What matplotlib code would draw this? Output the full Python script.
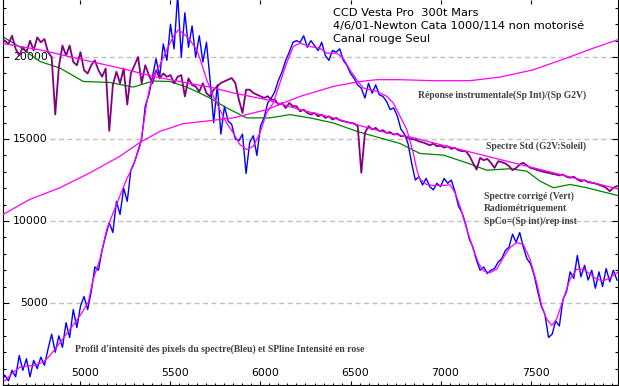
import numpy as np
import matplotlib
matplotlib.use("Agg")
import matplotlib.pyplot as plt
from matplotlib.ticker import MultipleLocator
from matplotlib.transforms import blended_transform_factory, ScaledTranslation

# Pixel spectrum grid (Angstrom), one sample every 20 A
wl = np.arange(4560, 7981, 20)

# Raw pixel intensity profile (blue)
blue = [
    150, 600, 250, 900, 500,
    1800, 900, 1600, 500, 1500,
    1000, 1700, 1200, 2200, 3100,
    2000, 3000, 2300, 3800, 2900,
    4600, 3500, 4800, 5400, 4600,
    5700, 7200, 7000, 8200, 9100,
    9900, 9300, 11200, 10400, 12000,
    11200, 13100, 13600, 14300, 15000,
    17000, 17700, 18800, 19900, 18800,
    20800, 19800, 22000, 20500, 23800,
    20000, 22700, 20600, 21900, 20000,
    21300, 19700, 20900, 18600, 16000,
    18300, 15300, 17000, 16100, 15900,
    15000, 14900, 15300, 12900, 14800,
    15200, 14000, 15800, 16300, 17200,
    17500, 17900, 18600, 19100, 19800,
    20300, 20900, 21000, 20900, 21300,
    20600, 21000, 20700, 20400, 20900,
    20100, 19800, 20400, 20300, 20500,
    19800, 19500, 19000, 18700, 18300,
    18100, 17500, 18400, 17800, 18300,
    17700, 17600, 17300, 16800, 16900,
    16400, 15600, 15300, 14700, 13500,
    12500, 12700, 12200, 12600, 12100,
    11900, 12300, 12100, 12600, 12300,
    12500, 11800, 10900, 10500, 9800,
    8900, 8400, 7600, 7000, 7200,
    6800, 7000, 7100, 7500, 7700,
    8200, 8400, 9200, 8700, 9300,
    8400, 7700, 7400, 6700, 5700,
    4800, 4300, 2900, 3100, 3900,
    3600, 5200, 5700, 6900, 6500,
    7900, 6600, 7300, 6400, 7000,
    5900, 6900, 6000, 7100, 6300,
    7000, 6400,
]

# Radiometrically corrected spectrum (purple)
purple = [
    21100, 21000, 20800, 21300, 20500,
    20100, 20600, 20300, 21000, 20400,
    21200, 20900, 21100, 20300, 20000,
    16500, 19400, 20700, 20100, 20700,
    19700, 19500, 20300, 19200, 19000,
    19500, 19800, 19200, 18800, 19300,
    15500, 18300, 19100, 18400, 19300,
    17100, 19000, 19500, 20000, 18400,
    19500, 18900, 18400, 19200, 18700,
    19000, 18800, 18900, 18400, 18800,
    18900, 17600, 18700, 18300, 18200,
    17900, 18400, 17800, 17600, 18010,
    18210, 18420, 18520, 18620, 18720,
    18420, 17400, 16590, 18010, 18010,
    17810, 17710, 17610, 17510, 17610,
    17400, 17400, 17100, 17200, 16890,
    17200, 17000, 17000, 16690, 16790,
    16590, 16490, 16590, 16390, 16490,
    16290, 16390, 16190, 16290, 16150,
    16090, 16030, 15990, 15950, 15790,
    12940, 15370, 15790, 15580, 15680,
    15480, 15540, 15380, 15420, 15270,
    15330, 15170, 15210, 15060, 15000,
    14960, 14860, 14800, 14720, 14620,
    14720, 14560, 14600, 14480, 14560,
    14400, 14460, 14320, 14260, 14260,
    13990, 13550, 13140, 13850, 13710,
    13790, 13550, 13240, 13650, 13590,
    13510, 13350, 13100, 13240, 13450,
    13550, 13390, 13240, 13180, 13100,
    13040, 12980, 12940, 12880, 12840,
    12780, 12840, 12700, 12640, 12700,
    12540, 12430, 12490, 12370, 12330,
    12290, 12210, 12130, 12030, 11820,
    12030, 12130,
]

# Spline of the pixel profile (pink)
bs_wl = [4580, 4620, 4664, 4700, 4738, 4793, 4831, 4886, 4942, 4997,
         5043, 5071, 5108, 5146, 5182, 5219, 5256, 5293, 5331, 5349,
         5368, 5386, 5404, 5442, 5479, 5516, 5543, 5571, 5608, 5645,
         5664, 5701, 5738, 5775, 5812, 5849, 5886, 5923, 5960, 5997,
         6034, 6071, 6108, 6145, 6182, 6219, 6275, 6330, 6368, 6423,
         6460, 6497, 6534, 6571, 6608, 6645, 6701, 6738, 6775, 6812,
         6849, 6868, 6886, 6923, 6960, 7016, 7053, 7081, 7108, 7146,
         7183, 7210, 7238, 7275, 7312, 7349, 7386, 7423, 7460, 7497,
         7534, 7562, 7590, 7618, 7645, 7682, 7719, 7756, 7794, 7831,
         7868, 7905, 7942, 7983]
bs_val = [250, 700, 1090, 1150, 1190, 1390, 1800, 2580, 3400, 4220,
          5040, 6450, 7670, 9500, 10510, 11530, 12540, 13360, 14570, 15780,
          17200, 18210, 18720, 19530, 20440, 21250, 21660, 21450, 21050, 20440,
          19900, 18620, 17610, 16790, 15980, 15370, 14660, 14360, 14560, 15370,
          16590, 17200, 18420, 19630, 20640, 20850, 20640, 20540, 20240, 20240,
          19930, 19220, 18620, 18110, 18010, 17910, 17610, 17200, 16390, 15600,
          14140, 13140, 12540, 12230, 12170, 12170, 12210, 11720, 10910, 9490,
          8270, 7460, 6960, 6850, 7060, 7770, 8380, 8680, 8580, 7670,
          6250, 4830, 4020, 3620, 4020, 5240, 6450, 7060, 7060, 6760,
          6450, 6350, 6550, 6860]

# Instrument response (Sp Int)/(Sp G2V)
resp_wl = [4567, 4719, 4886, 5053, 5219, 5331, 5442, 5571, 5664, 5849,
           6034, 6220, 6405, 6553, 6646, 6775, 6959, 7164, 7331, 7514,
           7701, 7848, 7983]
resp_val = [10380, 11320, 12030, 12940, 13950, 14800, 15470, 15940, 16050, 16290,
            16790, 17600, 18210, 18510, 18620, 18620, 18560, 18560, 18780, 19220,
            19940, 20540, 21050]

# Standard spectrum G2V (green)
std_wl = [4567, 4660, 4775, 4886, 5016, 5164, 5293, 5404, 5497, 5590,
          5664, 5719, 5812, 5923, 6053, 6164, 6275, 6405, 6535, 6664,
          6775, 6886, 7016, 7146, 7257, 7386, 7479, 7553, 7627, 7720,
          7812, 7983]
std_val = [21250, 20640, 19730, 19330, 18510, 18450, 18170, 18540, 18510, 18170,
           17800, 17500, 16900, 16290, 16290, 16490, 16290, 15980, 15470, 15070,
           14730, 14120, 14020, 13550, 13100, 13190, 13040, 12430, 12030, 12230,
           12030, 11560]

# Spline of the corrected spectrum (pink)
ps_wl = [4567, 4775, 4997, 5219, 5404, 5590, 5719, 5849, 6034, 6220,
         6405, 6553, 6701, 6831, 6960, 7146, 7331, 7516, 7701, 7886, 7983]
ps_val = [20830, 20440, 19880, 19330, 18820, 18420, 18170, 17810, 17400, 16790,
          16290, 15820, 15380, 15130, 14770, 14260, 13750, 13250, 12740, 12230, 11970]

x_ticks = [5000, 5500, 6000, 6500, 7000, 7500]
y_ticks = [5000, 10000, 15000, 20000]

assert len(blue) == len(wl) and len(purple) == len(wl)

W, H = 619, 386
fig = plt.figure(figsize=(W / 100, H / 100), dpi=100)
ax = fig.add_axes([2.5 / W, 1 / H, 615 / W, 385 / H])
ax.set_xlim(4567, 7983)
ax.set_ylim(0, 23480)

# dashed grid lines, starting right of the inside labels
for v in y_ticks:
    ax.axhline(v, xmin=0.077, xmax=1, color="#c0c0c0", lw=1.0,
               linestyle=(0, (3.6, 2.5)), zorder=0.5)

ax.plot(wl, blue, color="#0000ff", lw=1.0, zorder=2)
ax.plot(bs_wl, bs_val, color="#ff00ff", lw=0.9, zorder=3)
ax.plot(resp_wl, resp_val, color="#ff00ff", lw=0.9, zorder=3)
ax.plot(std_wl, std_val, color="#008000", lw=0.9, zorder=2.5)
ax.plot(wl, purple, color="#800080", lw=1.3, zorder=2.6)
ax.plot(ps_wl, ps_val, color="#ff00ff", lw=0.9, zorder=3)

# ticks inside
ax.xaxis.set_major_locator(MultipleLocator(500))
ax.xaxis.set_minor_locator(MultipleLocator(50))
ax.yaxis.set_major_locator(MultipleLocator(5000))
ax.yaxis.set_minor_locator(MultipleLocator(1000))
ax.tick_params(which="both", direction="in", labelbottom=False, labelleft=False,
               top=True, right=True, width=0.8, color="black")
ax.tick_params(axis="x", which="major", length=3)
ax.tick_params(axis="x", which="minor", length=1.5, top=False)
ax.tick_params(axis="y", which="major", length=4)
ax.tick_params(axis="y", which="minor", length=2.5)
ax.spines["top"].set_visible(False)
for s in ["left", "right", "bottom"]:
    ax.spines[s].set_linewidth(0.8)

# tick labels drawn inside the frame
xtrans = blended_transform_factory(ax.transData, ax.transAxes) + \
    ScaledTranslation(5 / 100, 0, fig.dpi_scale_trans)
for v in x_ticks:
    ax.text(v, 0.031, str(v), transform=xtrans, ha="center", va="center",
            fontsize=7.8, family="DejaVu Sans", zorder=1)
ytrans = blended_transform_factory(ax.transAxes, ax.transData)
for v in y_ticks:
    ax.text(0.074, v, str(v), transform=ytrans, ha="right", va="center",
            fontsize=7.8, family="DejaVu Sans", zorder=1)

# title block
for i, line in enumerate(["CCD Vesta Pro  300t Mars",
                          "4/6/01-Newton Cata 1000/114 non motorisé",
                          "Canal rouge Seul"]):
    fig.text(333 / W, 1 - (13.3 + 12.9 * i) / H, line, ha="left", va="center",
             fontsize=8.2, family="DejaVu Sans")

notes = [
    (418, 95, "Réponse instrumentale(Sp Int)/(Sp G2V)"),
    (486, 146, "Spectre Std (G2V:Soleil)"),
    (484, 196, "Spectre corrigé (Vert)"),
    (484, 208.5, "Radiométriquement"),
    (484, 221, "SpCo=(Sp int)/rep inst"),
    (75, 349, "Profil d'intensité des pixels du spectre(Bleu) et SPline Intensité en rose"),
]
for x, y, t in notes:
    fig.text(x / W, 1 - y / H, t, ha="left", va="center", fontsize=6.9,
             family="Liberation Serif", fontweight="bold", color="#404040")

fig.savefig("out.png", dpi=100)
